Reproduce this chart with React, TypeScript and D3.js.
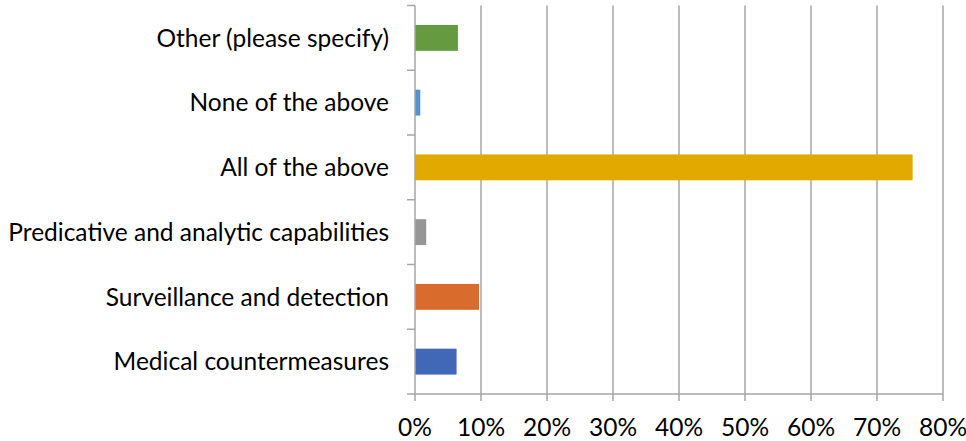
import React from 'react'
import * as d3 from 'd3'

const categories = [
  'Other (please specify)',
  'None of the above',
  'All of the above',
  'Predicative and analytic capabilities',
  'Surveillance and detection',
  'Medical countermeasures',
]
const values = [6.5, 0.8, 75.4, 1.7, 9.7, 6.3]
const colors = ['#659A40', '#5591CC', '#E2AA00', '#969696', '#D96C2C', '#4068B6']
const xTicks = [0, 10, 20, 30, 40, 50, 60, 70, 80]

const width = 966
const height = 441
const margin = { top: 5.5, right: 23, bottom: 47, left: 415 }
const font = 'Lato, "Open Sans", sans-serif'
const fontSize = 24.5

const x = d3.scaleLinear()
  .domain([0, 80])
  .range([margin.left, width - margin.right])

const y = d3.scaleBand<string>()
  .domain(categories)
  .range([margin.top, height - margin.bottom])
  .paddingInner(0.6)
  .paddingOuter(0.3)

export default function App() {
  const step = (height - margin.bottom - margin.top) / categories.length
  const bottom = height - margin.bottom
  return (
    <div style={{ position: 'absolute', left: 0, top: 0 }}>
      <svg width={width} height={height} style={{ display: 'block', background: '#fff' }}>
        {xTicks.slice(1).map(t => (
          <line key={t} x1={x(t)} x2={x(t)} y1={margin.top} y2={bottom} stroke="#a6a6a6" strokeWidth={1.5} />
        ))}
        {categories.map((c, i) => (
          <rect key={c} x={x(0)} y={y(c)} width={x(values[i]) - x(0)} height={y.bandwidth()} fill={colors[i]} />
        ))}
        <line x1={x(0)} x2={x(0)} y1={margin.top} y2={bottom} stroke="#a6a6a6" strokeWidth={1.5} />
        {d3.range(categories.length + 1).map(i => (
          <line key={i} x1={x(0) - 8} x2={x(0)} y1={margin.top + i * step} y2={margin.top + i * step} stroke="#a6a6a6" strokeWidth={1.5} />
        ))}
        <line x1={x(0)} x2={x(80)} y1={bottom} y2={bottom} stroke="#a6a6a6" strokeWidth={1.5} />
        {xTicks.map(t => (
          <g key={t}>
            <line x1={x(t)} x2={x(t)} y1={bottom} y2={bottom + 7} stroke="#a6a6a6" strokeWidth={1.5} />
            <text x={x(t)} y={bottom + 42} textAnchor="middle" fontFamily={font} fontSize={fontSize} fill="#000">{t}%</text>
          </g>
        ))}
        {categories.map(c => (
          <text key={c} x={x(0) - 26} y={(y(c) ?? 0) + y.bandwidth() / 2} dy="0.36em" textAnchor="end" fontFamily={font} fontSize={fontSize} fill="#000">{c}</text>
        ))}
      </svg>
    </div>
  )
}
